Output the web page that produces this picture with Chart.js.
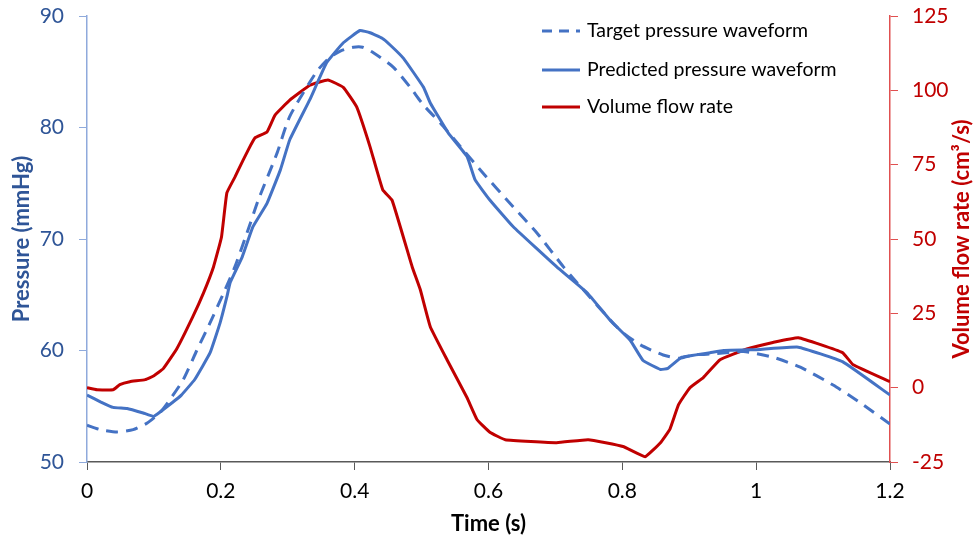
<!DOCTYPE html>
<html>
<head>
<meta charset="utf-8">
<script src="https://cdn.jsdelivr.net/npm/chart.js@4.4.1/dist/chart.umd.min.js"></script>
<style>
html,body{margin:0;padding:0;background:#fff;}
#wrap{width:975px;height:541px;position:relative;}
</style>
</head>
<body>
<div id="wrap"><canvas id="c" width="975" height="541"></canvas></div>
<script>
// ---- Data ----
const seriesLabels = ['Target pressure waveform', 'Predicted pressure waveform', 'Volume flow rate'];

const targetTime = [0.000,0.020,0.045,0.069,0.090,0.110,0.124,0.144,0.164,0.184,0.206,0.221,0.244,0.256,0.284,0.303,0.343,0.363,0.380,0.398,0.412,0.428,0.458,0.483,0.503,0.528,0.562,0.592,0.632,0.673,0.712,0.732,0.797,0.827,0.861,0.886,0.906,0.936,0.981,1.025,1.066,1.115,1.156,1.200];
const targetPressure = [53.3,52.9,52.7,52.9,53.5,54.5,55.6,57.4,60.0,62.5,65.4,67.5,71.4,73.5,77.7,81.0,85.0,86.3,86.9,87.2,87.2,86.7,85.4,83.6,82.0,80.4,78.0,75.9,73.2,70.5,67.5,66.1,61.8,60.5,59.6,59.3,59.6,59.7,59.9,59.4,58.5,56.9,55.3,53.4];

const predictedTime = [0.000,0.020,0.039,0.060,0.084,0.100,0.129,0.141,0.161,0.184,0.199,0.209,0.214,0.232,0.248,0.269,0.289,0.303,0.333,0.358,0.383,0.408,0.423,0.441,0.453,0.473,0.503,0.513,0.540,0.568,0.580,0.602,0.637,0.702,0.747,0.782,0.812,0.831,0.857,0.868,0.889,0.931,0.951,1.006,1.063,1.129,1.200];
const predictedPressure = [56.0,55.4,54.9,54.8,54.4,54.1,55.4,56.0,57.4,59.8,62.5,64.8,66.1,68.4,71.1,73.2,76.2,78.9,82.5,85.8,87.6,88.7,88.5,88.0,87.4,86.2,83.6,82.2,79.5,77.4,75.3,73.5,71.1,67.5,65.2,62.7,60.9,59.1,58.3,58.4,59.4,59.8,60.0,60.1,60.3,59.0,56.0];

const flowTime = [0.000,0.015,0.039,0.049,0.064,0.087,0.100,0.114,0.134,0.158,0.174,0.189,0.201,0.209,0.221,0.226,0.241,0.251,0.269,0.281,0.303,0.333,0.360,0.383,0.403,0.423,0.442,0.456,0.486,0.498,0.513,0.538,0.568,0.583,0.602,0.625,0.702,0.749,0.801,0.834,0.857,0.871,0.884,0.901,0.921,0.946,0.986,1.025,1.063,1.129,1.145,1.200];
const flowRate = [0.0,-0.7,-0.7,1.0,2.0,2.7,4.0,6.4,13.0,23.8,31.8,40.6,50.7,65.5,70.8,73.2,80.0,84.0,86.0,91.7,96.7,101.7,103.5,101.0,94.4,81.0,66.5,63.0,40.6,33.0,20.5,9.4,-3.4,-10.8,-15.0,-17.5,-18.5,-17.5,-19.8,-23.2,-18.5,-14.0,-5.7,0.0,3.4,9.4,13.0,15.2,16.8,11.8,7.7,2.0];

const xTickLabels = ['0','0.2','0.4','0.6','0.8','1','1.2'];
const pressureTickLabels = ['50','60','70','80','90'];
const flowTickLabels = ['-25','0','25','50','75','100','125'];

const xTitle = 'Time (s)';
const leftTitle = 'Pressure (mmHg)';
const rightTitle = 'Volume flow rate (cm\u00B3/s)';

// ---- Styling ----
const BLUE = '#4472C4';
const RED = '#C00000';
const LBLUE_TXT = '#2F5597';
const FONT = 'Lato, "Open Sans", "Liberation Sans", sans-serif';
const TICK_SIZE = 21;
const TITLE_SIZE = 22;

function pairs(xs, ys){ return xs.map((x,i)=>({x:x, y:ys[i]})); }

const legendPlugin = {
  id: 'customLegend',
  afterDatasetsDraw(chart){
    const ctx = chart.ctx;
    const rows = [31, 70, 107];
    const x0 = 542, x1 = 580, tx = 587;
    ctx.save();
    chart.data.datasets.forEach((ds, i) => {
      const y = rows[i];
      ctx.beginPath();
      ctx.strokeStyle = ds.borderColor;
      ctx.lineWidth = 3;
      ctx.setLineDash(ds.borderDash ? [10, 7] : []);
      ctx.moveTo(x0, y); ctx.lineTo(x1, y);
      ctx.stroke();
      ctx.setLineDash([]);
      ctx.fillStyle = '#000';
      ctx.font = '19.5px ' + FONT;
      ctx.textBaseline = 'middle';
      ctx.textAlign = 'left';
      ctx.fillText(ds.label, tx, y);
    });
    // right axis title, reading bottom-to-top
    ctx.translate(962, 239);
    ctx.rotate(-Math.PI/2);
    ctx.fillStyle = RED;
    ctx.font = 'bold ' + TITLE_SIZE + 'px ' + FONT;
    ctx.textAlign = 'center';
    ctx.textBaseline = 'middle';
    ctx.fillText(rightTitle, 0, 0);
    ctx.restore();
  }
};

function fixV(w){ return function(s){ s.width = w; s.paddingTop = 0; s.paddingBottom = 0; }; }

new Chart(document.getElementById('c'), {
  type: 'line',
  data: {
    datasets: [
      { label: seriesLabels[0], data: pairs(targetTime, targetPressure), yAxisID: 'y', borderColor: BLUE, borderWidth: 3, borderDash: [12, 8], pointRadius: 0, tension: 0.2, fill: false },
      { label: seriesLabels[1], data: pairs(predictedTime, predictedPressure), yAxisID: 'y', borderColor: BLUE, borderWidth: 3, pointRadius: 0, tension: 0.1, fill: false },
      { label: seriesLabels[2], data: pairs(flowTime, flowRate), yAxisID: 'y2', borderColor: RED, borderWidth: 3, pointRadius: 0, tension: 0.1, fill: false }
    ]
  },
  options: {
    responsive: false,
    animation: false,
    devicePixelRatio: 1,
    layout: { padding: { top: 16, left: 0, right: 0, bottom: 0 } },
    plugins: { legend: { display: false }, tooltip: { enabled: false } },
    scales: {
      x: {
        type: 'linear', min: 0, max: 1.2,
        afterFit(s){ s.height = 79; s.paddingLeft = 0; s.paddingRight = 0; },
        afterBuildTicks(s){ s.ticks = xTickLabels.map((t,i)=>({value: i*0.2})); },
        ticks: { font: { family: FONT, size: TICK_SIZE }, color: '#000', padding: 9, maxRotation: 0,
                 callback: (v, i) => xTickLabels[i] },
        grid: { display: true, drawOnChartArea: false, drawTicks: true, tickLength: 8, color: '#595959' },
        border: { display: true, color: '#595959', width: 1.5 },
        title: { display: true, text: xTitle, color: '#000', font: { family: FONT, size: TITLE_SIZE, weight: 'bold' }, padding: { bottom: 4, top: 0 } }
      },
      y: {
        type: 'linear', position: 'left', min: 50, max: 90,
        afterFit: fixV(87),
        afterBuildTicks(s){ s.ticks = pressureTickLabels.map(t=>({value: Number(t)})); },
        ticks: { font: { family: FONT, size: TICK_SIZE }, color: LBLUE_TXT, padding: 15, callback: (v, i) => pressureTickLabels[i] },
        grid: { display: true, drawOnChartArea: false, drawTicks: true, tickLength: 8, color: '#8FAADC' },
        border: { display: true, color: '#8FAADC', width: 1.5 },
        title: { display: true, text: leftTitle, color: LBLUE_TXT, font: { family: FONT, size: TITLE_SIZE, weight: 'bold' }, padding: { top: 9, bottom: 0 } }
      },
      y2: {
        type: 'linear', position: 'right', min: -25, max: 125,
        afterFit: fixV(85),
        afterBuildTicks(s){ s.ticks = flowTickLabels.map(t=>({value: Number(t)})); },
        ticks: { font: { family: FONT, size: TICK_SIZE }, color: RED, padding: 14, callback: (v, i) => flowTickLabels[i] },
        grid: { display: true, drawOnChartArea: false, drawTicks: true, tickLength: 8, color: '#E05050' },
        border: { display: true, color: '#E05050', width: 1.5 },
        title: { display: false }
      }
    }
  },
  plugins: [legendPlugin]
});
</script>
</body>
</html>
